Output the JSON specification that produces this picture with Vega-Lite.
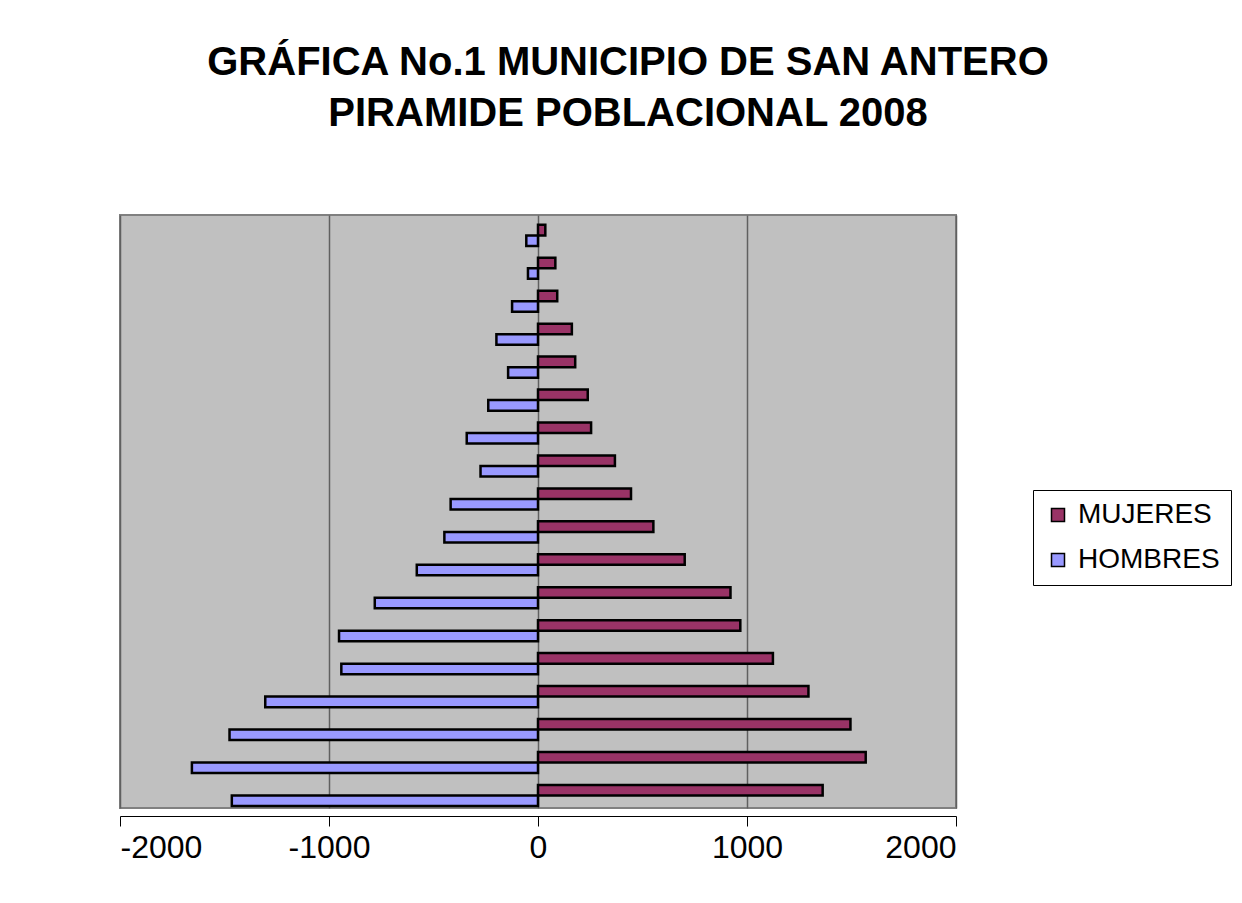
{
  "$schema": "https://vega.github.io/schema/vega-lite/v6.json",
  "autosize": "none",
  "width": 836,
  "height": 593,
  "padding": {"left": 120, "top": 215, "right": 286, "bottom": 95},
  "background": "white",
  "title": {
    "text": ["GRÁFICA No.1 MUNICIPIO DE SAN ANTERO", "PIRAMIDE POBLACIONAL 2008"],
    "font": "Liberation Sans",
    "fontSize": 40,
    "fontWeight": "bold",
    "color": "black",
    "lineHeight": 51,
    "anchor": "middle",
    "dx": 90,
    "offset": 81
  },
  "config": {
    "view": {"fill": "#C0C0C0", "stroke": "#808080", "strokeWidth": 2},
    "font": "Liberation Sans"
  },
  "data": {
    "values": [
      {"edad": "0-4", "orden": 1, "sexo": "MUJERES", "poblacion": 1362},
      {"edad": "5-9", "orden": 2, "sexo": "MUJERES", "poblacion": 1568},
      {"edad": "10-14", "orden": 3, "sexo": "MUJERES", "poblacion": 1495},
      {"edad": "15-19", "orden": 4, "sexo": "MUJERES", "poblacion": 1294},
      {"edad": "20-24", "orden": 5, "sexo": "MUJERES", "poblacion": 1124},
      {"edad": "25-29", "orden": 6, "sexo": "MUJERES", "poblacion": 968},
      {"edad": "30-34", "orden": 7, "sexo": "MUJERES", "poblacion": 921},
      {"edad": "35-39", "orden": 8, "sexo": "MUJERES", "poblacion": 702},
      {"edad": "40-44", "orden": 9, "sexo": "MUJERES", "poblacion": 552},
      {"edad": "45-49", "orden": 10, "sexo": "MUJERES", "poblacion": 445},
      {"edad": "50-54", "orden": 11, "sexo": "MUJERES", "poblacion": 368},
      {"edad": "55-59", "orden": 12, "sexo": "MUJERES", "poblacion": 254},
      {"edad": "60-64", "orden": 13, "sexo": "MUJERES", "poblacion": 238},
      {"edad": "65-69", "orden": 14, "sexo": "MUJERES", "poblacion": 178},
      {"edad": "70-74", "orden": 15, "sexo": "MUJERES", "poblacion": 162},
      {"edad": "75-79", "orden": 16, "sexo": "MUJERES", "poblacion": 92},
      {"edad": "80-84", "orden": 17, "sexo": "MUJERES", "poblacion": 83},
      {"edad": "85+", "orden": 18, "sexo": "MUJERES", "poblacion": 35},
      {"edad": "0-4", "orden": 1, "sexo": "HOMBRES", "poblacion": -1465},
      {"edad": "5-9", "orden": 2, "sexo": "HOMBRES", "poblacion": -1656},
      {"edad": "10-14", "orden": 3, "sexo": "HOMBRES", "poblacion": -1476},
      {"edad": "15-19", "orden": 4, "sexo": "HOMBRES", "poblacion": -1305},
      {"edad": "20-24", "orden": 5, "sexo": "HOMBRES", "poblacion": -941},
      {"edad": "25-29", "orden": 6, "sexo": "HOMBRES", "poblacion": -952},
      {"edad": "30-34", "orden": 7, "sexo": "HOMBRES", "poblacion": -781},
      {"edad": "35-39", "orden": 8, "sexo": "HOMBRES", "poblacion": -580},
      {"edad": "40-44", "orden": 9, "sexo": "HOMBRES", "poblacion": -448},
      {"edad": "45-49", "orden": 10, "sexo": "HOMBRES", "poblacion": -418},
      {"edad": "50-54", "orden": 11, "sexo": "HOMBRES", "poblacion": -275},
      {"edad": "55-59", "orden": 12, "sexo": "HOMBRES", "poblacion": -341},
      {"edad": "60-64", "orden": 13, "sexo": "HOMBRES", "poblacion": -238},
      {"edad": "65-69", "orden": 14, "sexo": "HOMBRES", "poblacion": -143},
      {"edad": "70-74", "orden": 15, "sexo": "HOMBRES", "poblacion": -199},
      {"edad": "75-79", "orden": 16, "sexo": "HOMBRES", "poblacion": -124},
      {"edad": "80-84", "orden": 17, "sexo": "HOMBRES", "poblacion": -48},
      {"edad": "85+", "orden": 18, "sexo": "HOMBRES", "poblacion": -56}
    ]
  },
  "mark": {"type": "bar", "stroke": "black", "strokeWidth": 2.5},
  "encoding": {
    "y": {
      "field": "edad",
      "type": "nominal",
      "sort": {"field": "orden", "order": "descending"},
      "scale": {"paddingInner": 0.36, "paddingOuter": 0.18, "align": 0.83},
      "axis": null
    },
    "yOffset": {
      "field": "sexo",
      "type": "nominal",
      "sort": ["MUJERES", "HOMBRES"],
      "scale": {"paddingInner": 0, "paddingOuter": 0}
    },
    "x": {
      "field": "poblacion",
      "type": "quantitative",
      "scale": {"domain": [-2000, 2000], "nice": false, "zero": false},
      "axis": {
        "title": null,
        "values": [-2000, -1000, 0, 1000, 2000],
        "labelExpr": "datum.value + ''",
        "grid": true,
        "gridColor": "#606060",
        "gridWidth": 1.5,
        "domainColor": "black",
        "domainWidth": 1,
        "tickColor": "black",
        "tickSize": 10,
        "offset": 8,
        "labelFont": "Liberation Sans",
        "labelFontSize": 32,
        "labelColor": "black",
        "labelPadding": 6
      }
    },
    "color": {
      "field": "sexo",
      "type": "nominal",
      "scale": {"domain": ["MUJERES", "HOMBRES"], "range": ["#993366", "#9999FF"]},
      "legend": {
        "title": null,
        "orient": "none",
        "legendX": 913,
        "legendY": 275,
        "symbolType": "square",
        "symbolSize": 169,
        "symbolStrokeColor": "black",
        "symbolStrokeWidth": 1.5,
        "labelFont": "Liberation Sans",
        "labelFontSize": 28,
        "labelColor": "black",
        "labelOffset": 6,
        "rowPadding": 17,
        "padding": 11,
        "strokeColor": "black",
        "fillColor": "white"
      }
    }
  }
}
